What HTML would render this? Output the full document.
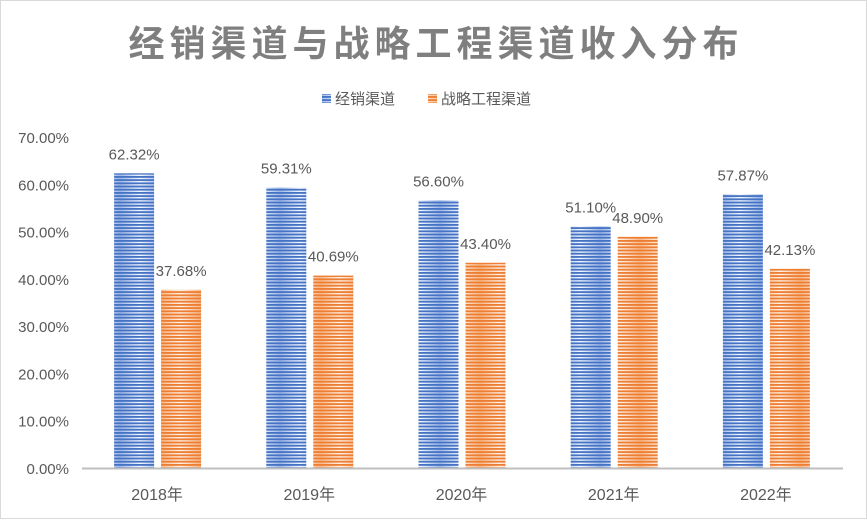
<!DOCTYPE html>
<html><head><meta charset="utf-8"><style>
body{margin:0;background:#fff}
svg{display:block;font-family:"Liberation Sans","Noto Sans CJK SC",sans-serif}
</style></head><body>
<svg id="chart" width="867" height="520">
<defs>
<linearGradient id="gb" x1="0" x2="1" y1="0" y2="0"><stop offset="0" stop-color="#9fb8e6"/><stop offset="0.5" stop-color="#f4f7fd"/><stop offset="1" stop-color="#9fb8e6"/></linearGradient>
<linearGradient id="go" x1="0" x2="1" y1="0" y2="0"><stop offset="0" stop-color="#f7b98a"/><stop offset="0.5" stop-color="#fff3ea"/><stop offset="1" stop-color="#f7b98a"/></linearGradient>
<pattern id="pb" width="40" height="3.2" patternUnits="userSpaceOnUse"><rect width="40" height="3.2" fill="url(#gb)"/><rect width="40" height="1.8" fill="#4472c4"/></pattern>
<pattern id="po" width="40" height="3.2" patternUnits="userSpaceOnUse"><rect width="40" height="3.2" fill="url(#go)"/><rect width="40" height="1.8" fill="#ed7d31"/></pattern>
</defs>
<rect x="0.5" y="0.5" width="866" height="518" fill="#fff" stroke="#d9d9d9"/>
<text x="436" y="56" text-anchor="middle" font-size="36" font-weight="bold" fill="#7f7f7f" letter-spacing="5">经销渠道与战略工程渠道收入分布</text>
<g>
<rect x="322" y="94" width="9" height="9" fill="url(#pb)"/>
<text x="335" y="104" font-size="15" fill="#595959">经销渠道</text>
<rect x="428" y="94" width="9" height="9" fill="url(#po)"/>
<text x="441" y="104" font-size="15" fill="#595959">战略工程渠道</text>
</g>
<g id="yaxis"></g>
<g id="bars"></g>
<line x1="82" y1="468.5" x2="843" y2="468.5" stroke="#bfbfbf" stroke-width="2"/>
</svg>
<script>
const categories=["2018年","2019年","2020年","2021年","2022年"];
const distribution=[62.32,59.31,56.60,51.10,57.87];
const engineering=[37.68,40.69,43.40,48.90,42.13];
const yTicks=[0,10,20,30,40,50,60,70];
const NS="http://www.w3.org/2000/svg";
const y0=468,yTop=137,yMax=70,x0=81,step=152.2;
const Y=v=>y0-(v/yMax)*(y0-yTop);
const Xc=i=>x0+step*(i+0.5);
function mk(t,a,p,txt){const e=document.createElementNS(NS,t);for(const k in a)e.setAttribute(k,a[k]);if(txt!=null)e.textContent=txt;p.appendChild(e);return e;}
const ya=document.getElementById('yaxis'),bg=document.getElementById('bars');
yTicks.forEach(v=>{const t=mk('text',{x:69,y:Y(v)+6,'text-anchor':'end','font-size':15,fill:'#595959'},ya,v.toFixed(2)+'%');

});
categories.forEach((c,i)=>{
const cx=Xc(i);
const b=mk('rect',{x:cx-43,y:Y(distribution[i]),width:40,height:y0-Y(distribution[i]),fill:'url(#pb)'},bg);


const o=mk('rect',{x:cx+4,y:Y(engineering[i]),width:40,height:y0-Y(engineering[i]),fill:'url(#po)'},bg);


const l1=mk('text',{x:cx-23,y:Y(distribution[i])-14,'text-anchor':'middle','font-size':15,fill:'#595959'},bg,distribution[i].toFixed(2)+'%');


const l2=mk('text',{x:cx+24,y:Y(engineering[i])-14,'text-anchor':'middle','font-size':15,fill:'#595959'},bg,engineering[i].toFixed(2)+'%');


const xl=mk('text',{x:cx,y:500,'text-anchor':'middle','font-size':16,fill:'#595959'},bg,c);


});
</script>
</body></html>
